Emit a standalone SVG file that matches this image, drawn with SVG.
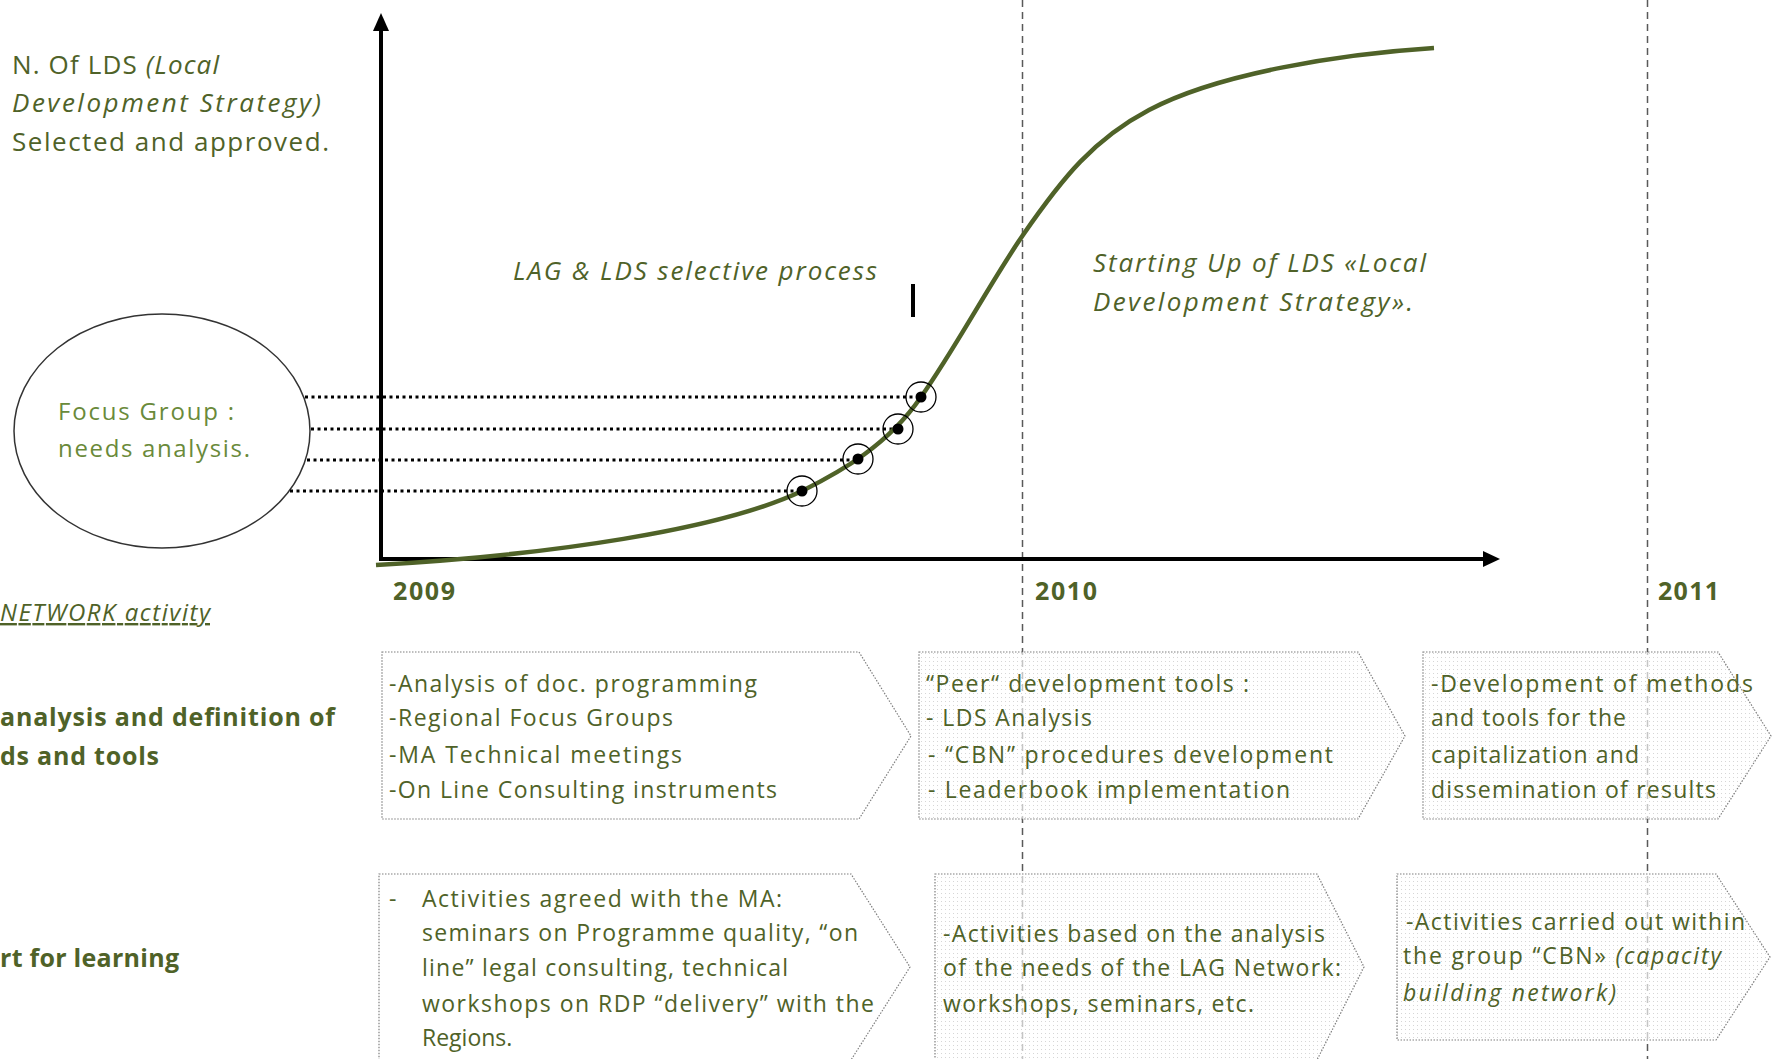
<svg xmlns="http://www.w3.org/2000/svg" width="1779" height="1059" viewBox="0 0 1779 1059">
<style>
.t{font-family:"Open Sans",Lato,"Liberation Sans",sans-serif;fill:#4f6228}
.lt{fill:#6a8a3a}
.it{font-style:italic}
.b{font-weight:bold}
.bx{font-size:23px}
.box{stroke:#7f7f7f;stroke-width:1.2;stroke-dasharray:1.5 1.5}
.dash{stroke:#595959;stroke-width:1.5;stroke-dasharray:7 5;fill:none}
.dot{stroke:#000;stroke-width:3;stroke-dasharray:3 3.5;fill:none}
.mk{fill:none;stroke:#000;stroke-width:1.3}
</style>
<defs>
<pattern id="dots" width="4" height="4" patternUnits="userSpaceOnUse">
<rect width="4" height="4" fill="#fff" fill-opacity="0.65"/>
<rect x="1" y="1" width="1" height="1" fill="#d6d6d6"/>
</pattern>
</defs>
<rect width="1779" height="1059" fill="#fff"/>

<g id="year-lines">
<line class="dash" x1="1022.5" y1="0" x2="1022.5" y2="1059"/>
<line class="dash" x1="1647.5" y1="0" x2="1647.5" y2="1059"/>
</g>

<g id="focus-group">
<ellipse cx="162" cy="431" rx="148" ry="117" fill="#fff" stroke="#333" stroke-width="1.5"/>
<text class="t lt" font-size="24" x="58" y="420" textLength="176" lengthAdjust="spacing">Focus Group :</text>
<text class="t lt" font-size="24" x="58" y="457" textLength="192" lengthAdjust="spacing">needs analysis.</text>
</g>

<g id="connectors">
<line class="dot" x1="305" y1="397" x2="921" y2="397"/>
<line class="dot" x1="311" y1="429" x2="898" y2="429"/>
<line class="dot" x1="307" y1="460" x2="858" y2="460"/>
<line class="dot" x1="290" y1="491" x2="802" y2="491"/>
</g>

<g id="axes">
<line x1="381" y1="30" x2="381" y2="561" stroke="#000" stroke-width="4"/>
<polygon points="381,13 373,31 389,31" fill="#000"/>
<line x1="379" y1="559" x2="1484" y2="559" stroke="#000" stroke-width="4"/>
<polygon points="1500,559 1483,551 1483,567" fill="#000"/>
<line x1="913" y1="284" x2="913" y2="317" stroke="#000" stroke-width="4"/>
</g>

<g id="curve">
<path d="M376,565 C550,555 720,530 802,491 C842,471 888,445 921,397 C955,349 990,283 1023,235 C1063,177 1094,139 1149,110 C1219,73 1341,54 1434,48" fill="none" stroke="#4f6228" stroke-width="4.5"/>
</g>

<g id="markers">
<circle cx="802" cy="491" r="5.5" fill="#000"/><circle class="mk" cx="802" cy="491" r="15"/>
<circle cx="858" cy="459" r="5.5" fill="#000"/><circle class="mk" cx="858" cy="459" r="15"/>
<circle cx="898" cy="429" r="5.5" fill="#000"/><circle class="mk" cx="898" cy="429" r="15"/>
<circle cx="921" cy="397" r="5.5" fill="#000"/><circle class="mk" cx="921" cy="397" r="15"/>
</g>

<g id="labels">
<text class="t" font-size="26" x="12" y="74" textLength="207" lengthAdjust="spacing">N. Of LDS <tspan class="it">(Local</tspan></text>
<text class="t it" font-size="26" x="12" y="112" textLength="309" lengthAdjust="spacing">Development Strategy)</text>
<text class="t" font-size="26" x="12" y="151" textLength="317" lengthAdjust="spacing">Selected and approved.</text>
<text class="t it" font-size="26" x="513" y="280" textLength="364" lengthAdjust="spacing">LAG &amp; LDS selective process</text>
<text class="t it" font-size="26" x="1093" y="272" textLength="333" lengthAdjust="spacing">Starting Up of LDS «Local</text>
<text class="t it" font-size="26" x="1093" y="311" textLength="320" lengthAdjust="spacing">Development Strategy».</text>
<text class="t b" font-size="25" x="393" y="600" textLength="62" lengthAdjust="spacing">2009</text>
<text class="t b" font-size="25" x="1035" y="600" textLength="62" lengthAdjust="spacing">2010</text>
<text class="t b" font-size="25" x="1658" y="600" textLength="61" lengthAdjust="spacing">2011</text>
<text class="t it" font-size="24" x="0" y="621" textLength="210" lengthAdjust="spacing" text-decoration="underline">NETWORK activity</text>
<text class="t b" font-size="25" x="0" y="726" textLength="335" lengthAdjust="spacing">analysis and definition of</text>
<text class="t b" font-size="25" x="0" y="765" textLength="159" lengthAdjust="spacing">ds and tools</text>
<text class="t b" font-size="25" x="0" y="967" textLength="179" lengthAdjust="spacing">rt for learning</text>
</g>

<g id="box-a">
<path class="box" d="M382,652 H859 L911,736 L859,819 H382 Z" fill="#fff"/>
<text class="t bx" x="389" y="692" textLength="368" lengthAdjust="spacing">-Analysis of doc. programming</text>
<text class="t bx" x="389" y="726" textLength="284" lengthAdjust="spacing">-Regional Focus Groups</text>
<text class="t bx" x="389" y="763" textLength="293" lengthAdjust="spacing">-MA Technical meetings</text>
<text class="t bx" x="389" y="798" textLength="388" lengthAdjust="spacing">-On Line Consulting instruments</text>
</g>

<g id="box-b">
<path class="box" d="M919,652 H1358 L1405,736 L1358,819 H919 Z" fill="url(#dots)"/>
<text class="t bx" x="926" y="692" textLength="323" lengthAdjust="spacing">“Peer“ development tools :</text>
<text class="t bx" x="926" y="726" textLength="166" lengthAdjust="spacing">- LDS Analysis</text>
<text class="t bx" x="928" y="763" textLength="405" lengthAdjust="spacing">- “CBN” procedures development</text>
<text class="t bx" x="928" y="798" textLength="362" lengthAdjust="spacing">- Leaderbook implementation</text>
</g>

<g id="box-c">
<path class="box" d="M1423,652 H1718 L1771,736 L1718,819 H1423 Z" fill="url(#dots)"/>
<text class="t bx" x="1431" y="692" textLength="322" lengthAdjust="spacing">-Development of methods</text>
<text class="t bx" x="1431" y="726" textLength="195" lengthAdjust="spacing">and tools for the</text>
<text class="t bx" x="1431" y="763" textLength="208" lengthAdjust="spacing">capitalization and</text>
<text class="t bx" x="1431" y="798" textLength="285" lengthAdjust="spacing">dissemination of results</text>
</g>

<g id="box-d">
<path class="box" d="M379,874 H851 L910,967 L851,1060 H379 Z" fill="#fff"/>
<text class="t bx" x="389" y="907">-</text>
<text class="t bx" x="422" y="907" textLength="360" lengthAdjust="spacing">Activities agreed with the MA:</text>
<text class="t bx" x="422" y="941" textLength="436" lengthAdjust="spacing">seminars on Programme quality, “on</text>
<text class="t bx" x="422" y="976" textLength="366" lengthAdjust="spacing">line” legal consulting, technical</text>
<text class="t bx" x="422" y="1012" textLength="452" lengthAdjust="spacing">workshops on RDP “delivery” with the</text>
<text class="t bx" x="422" y="1046">Regions.</text>
</g>

<g id="box-e">
<path class="box" d="M935,874 H1317 L1364,967 L1317,1060 H935 Z" fill="url(#dots)"/>
<text class="t bx" x="943" y="942" textLength="382" lengthAdjust="spacing">-Activities based on the analysis</text>
<text class="t bx" x="943" y="976" textLength="398" lengthAdjust="spacing">of the needs of the LAG Network:</text>
<text class="t bx" x="943" y="1012" textLength="311" lengthAdjust="spacing">workshops, seminars, etc.</text>
</g>

<g id="box-f">
<path class="box" d="M1397,874 H1716 L1770,957 L1716,1040 H1397 Z" fill="url(#dots)"/>
<text class="t bx" x="1406" y="930" textLength="339" lengthAdjust="spacing">-Activities carried out within</text>
<text class="t bx" x="1403" y="964" textLength="318" lengthAdjust="spacing">the group “CBN» <tspan class="it">(capacity</tspan></text>
<text class="t bx it" x="1403" y="1001" textLength="213" lengthAdjust="spacing">building network)</text>
</g>
</svg>
